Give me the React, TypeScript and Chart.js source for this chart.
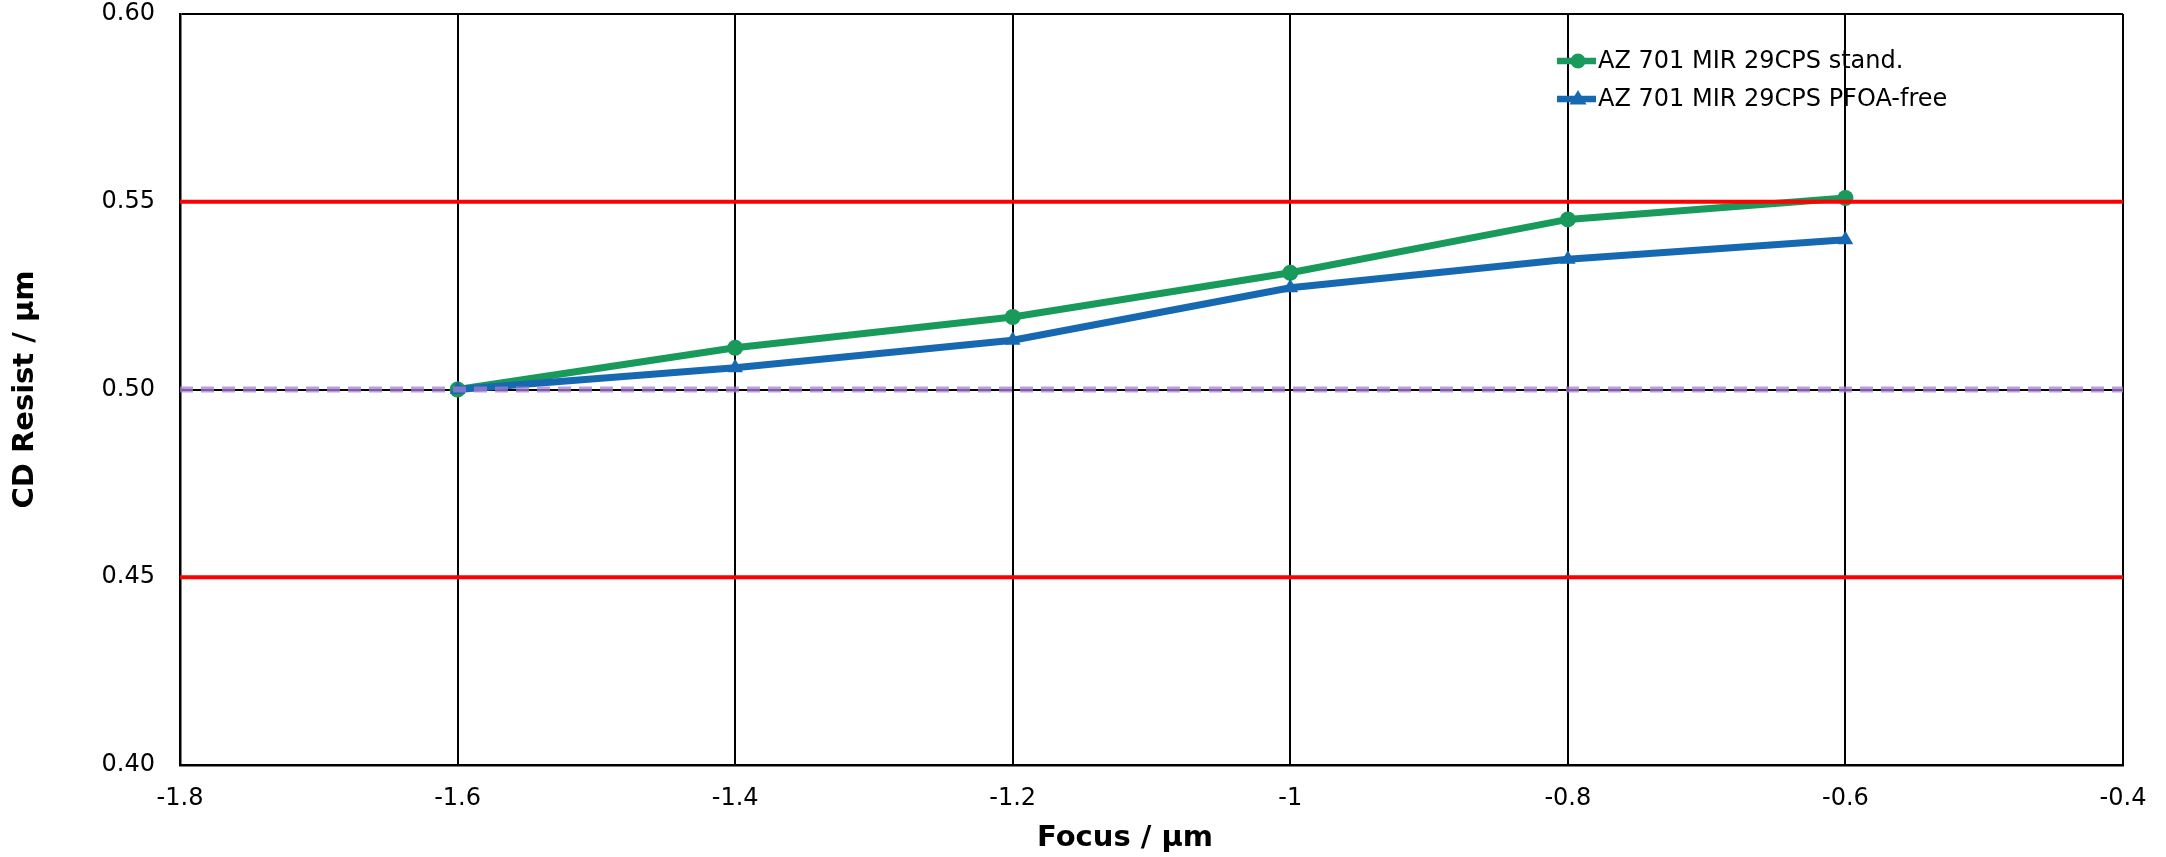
import React, { useEffect, useRef } from "react";
import { Chart, registerables } from "chart.js";

Chart.register(...registerables);

// ---- data ----
const focus = [-1.6, -1.4, -1.2, -1.0, -0.8, -0.6];
const standCD = [0.5, 0.5111, 0.5193, 0.5311, 0.5453, 0.551];
const pfoaFreeCD = [0.5, 0.5058, 0.5131, 0.5271, 0.5347, 0.5399];
const seriesNames = ["AZ 701 MIR 29CPS stand.", "AZ 701 MIR 29CPS PFOA-free"];
const specLimits = [0.55, 0.45];
const targetCD = [0.5];
const xRange = [-1.8, -0.4];
const xTicks = [-1.8, -1.6, -1.4, -1.2, -1.0, -0.8, -0.6, -0.4];
const yTicks = [0.4, 0.45, 0.5, 0.55, 0.6];
const xTitle = "Focus / µm";
const yTitle = "CD Resist / µm";

const W = 2166;
const H = 857;
const FONT = "'DejaVu Sans', Verdana, sans-serif";

const GREEN = "#189a5b";
const BLUE = "#1668b0";

function drawMarker(ctx: CanvasRenderingContext2D, style: string, x: number, y: number, r: number, color: string) {
  ctx.fillStyle = color;
  ctx.beginPath();
  if (style === "triangle") {
    ctx.moveTo(x, y - r);
    ctx.lineTo(x + r * 0.95, y + r * 0.6);
    ctx.lineTo(x - r * 0.95, y + r * 0.6);
    ctx.closePath();
  } else {
    ctx.arc(x, y, r, 0, Math.PI * 2);
  }
  ctx.fill();
}

const legendPlugin = {
  id: "customLegend",
  afterDraw(chart: any) {
    const ctx = chart.ctx;
    const x0 = 1557;
    let y = 61;
    ctx.save();
    chart.data.datasets.forEach((ds: any) => {
      if (!ds.inLegend) return;
      ctx.strokeStyle = ds.borderColor;
      ctx.lineWidth = 6.5;
      ctx.beginPath();
      ctx.moveTo(x0, y);
      ctx.lineTo(x0 + 39, y);
      ctx.stroke();
      drawMarker(ctx, ds.pointStyle, x0 + 21, y, ds.pointStyle === "triangle" ? 9 : 7.5, ds.borderColor);
      ctx.fillStyle = "#000";
      ctx.font = `24px ${FONT}`;
      ctx.textBaseline = "middle";
      ctx.textAlign = "left";
      ctx.fillText(ds.label, x0 + 41, y + 1);
      y += 38;
    });
    ctx.restore();
  },
};

const xTitlePlugin = {
  id: "xTitle",
  afterDraw(chart: any) {
    const ctx = chart.ctx;
    ctx.save();
    ctx.fillStyle = "#000";
    ctx.font = `bold 29px ${FONT}`;
    ctx.textAlign = "center";
    ctx.textBaseline = "middle";
    ctx.fillText(xTitle, 1125, 838);
    ctx.restore();
  },
};

function hline(y: number, label: string, color: string, width: number, dash: number[]) {
  return {
    label,
    data: xRange.map((x) => ({ x, y })),
    borderColor: color,
    backgroundColor: color,
    borderWidth: width,
    borderDash: dash,
    pointRadius: 0,
    pointHoverRadius: 0,
    order: 0,
    inLegend: false,
  };
}

export default function App() {
  const ref = useRef<HTMLCanvasElement | null>(null);

  useEffect(() => {
    document.body.style.margin = "0";
    const canvas = ref.current!;
    const chart = new Chart(canvas, {
      type: "line",
      data: {
        datasets: [
          ...specLimits.map((v) => hline(v, "spec " + v, "#ff0000", 4, [])),
          ...targetCD.map((v) => hline(v, "target " + v, "rgba(165,125,212,0.75)", 6, [13, 8])),
          {
            label: seriesNames[0],
            data: focus.map((x, i) => ({ x, y: standCD[i] })),
            borderColor: GREEN,
            backgroundColor: GREEN,
            borderWidth: 7,
            pointStyle: "circle",
            pointRadius: 8,
            pointBorderWidth: 0,
            order: 2,
            inLegend: true,
          } as any,
          {
            label: seriesNames[1],
            data: focus.map((x, i) => ({ x, y: pfoaFreeCD[i] })),
            borderColor: BLUE,
            backgroundColor: BLUE,
            borderWidth: 7,
            pointStyle: "triangle",
            pointRadius: 9,
            pointBorderWidth: 0,
            order: 1,
            inLegend: true,
          } as any,
        ],
      },
      options: {
        responsive: false,
        animation: false,
        devicePixelRatio: 1,
        layout: { padding: { top: 14, right: 43, bottom: 0, left: 0 } },
        plugins: {
          legend: { display: false },
          tooltip: { enabled: false },
          title: { display: false },
        },
        scales: {
          x: {
            type: "linear",
            min: xRange[0],
            max: xRange[1],
            afterBuildTicks: (s: any) => {
              s.ticks = xTicks.map((v) => ({ value: v }));
            },
            afterFit: (s: any) => {
              s.height = 92;
              s.paddingLeft = 0;
              s.paddingRight = 0;
            },
            ticks: {
              color: "#000",
              font: { family: FONT, size: 24 },
              padding: 19,
              maxRotation: 0,
              autoSkip: false,
              callback: (v: any) => String(Number(Number(v).toFixed(1))),
            },
            grid: { color: "#000", lineWidth: 2, drawTicks: false },
            border: { display: true, color: "#000", width: 2.5 },
            title: { display: false },
          },
          y: {
            type: "linear",
            min: 0.4,
            max: 0.6,
            afterBuildTicks: (s: any) => {
              s.ticks = yTicks.map((v) => ({ value: v }));
            },
            afterFit: (s: any) => {
              s.width = 180;
              s.paddingTop = 0;
              s.paddingBottom = 0;
            },
            ticks: {
              color: "#000",
              font: { family: FONT, size: 24 },
              padding: 25,
              callback: (v: any) => Number(v).toFixed(2),
            },
            grid: { color: "#000", lineWidth: 2, drawTicks: false },
            border: { display: true, color: "#000", width: 2.5 },
            title: {
              display: true,
              text: yTitle,
              color: "#000",
              font: { family: FONT, size: 29, weight: "bold" },
              padding: { top: 8, bottom: 0 },
            },
          },
        },
      } as any,
      plugins: [legendPlugin, xTitlePlugin],
    });
    return () => chart.destroy();
  }, []);

  return (
    <div style={{ position: "absolute", left: 0, top: 0, width: W, height: H, background: "#fff" }}>
      <canvas ref={ref} width={W} height={H} style={{ width: W, height: H, display: "block" }} />
    </div>
  );
}
